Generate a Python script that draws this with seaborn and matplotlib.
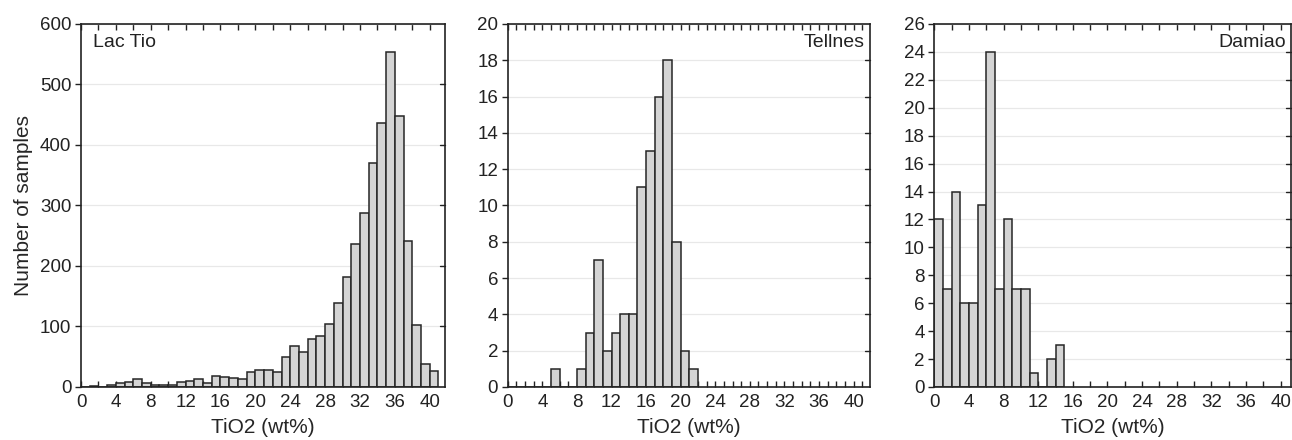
import numpy as np
import pandas as pd
import matplotlib
matplotlib.use("Agg")
import matplotlib.pyplot as plt
from matplotlib.ticker import MultipleLocator
import seaborn as sns

# counts per 1 wt% bin, starting at 0
lac_tio = [0, 1, 0, 4, 6, 8, 13, 7, 3, 4, 3, 9, 10, 13, 7, 18, 17, 15, 14, 25, 28,
           28, 25, 49, 67, 58, 80, 84, 104, 138, 182, 237, 287, 371, 436, 553, 448,
           242, 102, 38, 26]
tellnes = [0, 0, 0, 0, 0, 1, 0, 0, 1, 3, 7, 2, 3, 4, 4, 11, 13, 16, 18, 8, 2, 1]
damiao = [12, 7, 14, 6, 6, 13, 24, 7, 12, 7, 7, 1, 0, 2, 3]

panels = [
    ("Lac Tio", lac_tio, 600, 100, 2),
    ("Tellnes", tellnes, 20, 2, 1),
    ("Damiao", damiao, 26, 2, 2),
]
positions = [
    [0.0627, 0.1205, 0.2817, 0.825],
    [0.393, 0.1205, 0.2804, 0.825],
    [0.7231, 0.1205, 0.2762, 0.825],
]
xmax = [41.75, 41.9, 41.2]

sns.set_theme(style="ticks")
plt.rcParams["font.family"] = ["Liberation Sans", "DejaVu Sans"]

fig = plt.figure(figsize=(12.92, 4.4), dpi=100)

for i, (name, counts, ytop, ystep, xminor) in enumerate(panels):
    ax = fig.add_axes(positions[i])
    df = pd.DataFrame({"tio2": np.arange(len(counts)) + 0.5,
                       "n": np.asarray(counts, dtype=float)})
    ax.yaxis.grid(True, color="#e8e8e8", lw=0.9, zorder=0)
    ax.set_axisbelow(True)
    sns.histplot(data=df, x="tio2", weights="n", binwidth=1,
                 binrange=(0, len(counts)), ax=ax,
                 color="#d4d4d4", edgecolor="#262626", linewidth=1.1, alpha=1)
    ax.set_xlim(0, xmax[i])
    ax.set_ylim(0, ytop)
    ax.xaxis.set_major_locator(MultipleLocator(4))
    ax.xaxis.set_minor_locator(MultipleLocator(xminor))
    ax.yaxis.set_major_locator(MultipleLocator(ystep))
    ax.tick_params(axis="x", which="both", direction="in", top=True, bottom=True,
                   length=4, width=1, color="#222222", labelsize=13.5, pad=5)
    ax.tick_params(axis="y", which="both", direction="out", left=True, right=False,
                   length=4, width=1, color="#222222", labelsize=13.5, pad=3)
    # inward ticks on the right spine
    for y in np.arange(ystep, ytop, ystep):
        ax.plot([1.0, 0.985], [y, y], transform=ax.get_yaxis_transform(),
                color="#222222", lw=1, clip_on=False)
    for sp in ax.spines.values():
        sp.set_visible(True)
        sp.set_color("#222222")
        sp.set_linewidth(1.2)
    ax.set_xlabel("TiO2 (wt%)", fontsize=15, labelpad=5)
    if i == 0:
        ax.set_ylabel("Number of samples", fontsize=15, labelpad=5)
        ax.text(0.033, 0.948, name, transform=ax.transAxes, fontsize=14,
                ha="left", va="center", color="#222222")
    else:
        ax.set_ylabel("")
        ax.text(0.985, 0.948, name, transform=ax.transAxes, fontsize=14,
                ha="right", va="center", color="#222222")
    ax.tick_params(labelcolor="#222222")

fig.savefig("out.png", dpi=100)
